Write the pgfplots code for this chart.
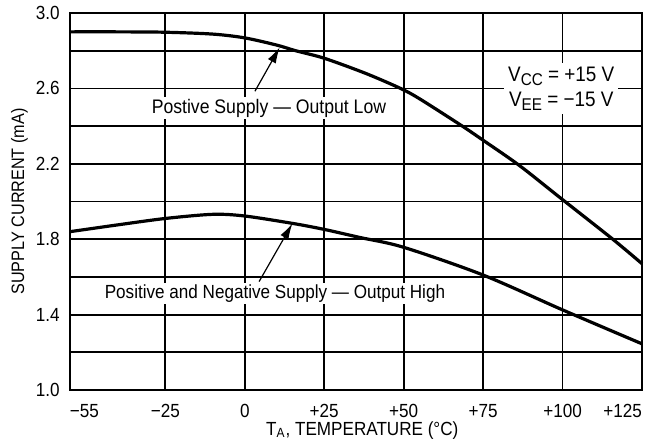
\documentclass[border=0pt]{standalone}
\usepackage{fontspec}
\setmainfont{Liberation Sans}[FakeStretch=0.9]
\usepackage{pgfplots}
\pgfplotsset{compat=1.18}
\usetikzlibrary{arrows.meta}

\pgfplotstableread{
T v
-55 2.900
-40 2.900
-25 2.898
-10 2.888
0 2.868
10 2.830
16 2.800
25 2.760
38 2.680
49 2.600
55 2.545
68 2.405
75 2.325
86.5 2.190
100 2.010
115.8 1.800
125 1.670
}\lowcurve

\pgfplotstableread{
T v
-55 1.840
-40 1.876
-25 1.910
-10 1.932
0 1.923
15 1.884
25 1.852
36 1.810
50 1.757
75 1.610
100 1.425
125 1.245
}\highcurve

\begin{document}
\begin{tikzpicture}
\begin{axis}[
  scale only axis, width=286pt, height=188.5pt,
  xmin=-55, xmax=125, ymin=1.0, ymax=3.0,
  xtick={-55,-25,0,25,50,75,100,125},
  xticklabels={\makebox[0pt][l]{−55},−25,0,+25,+50,+75,+100,\makebox[0pt][r]{+125}},
  ytick={1.0,1.4,1.8,2.2,2.6,3.0},
  yticklabels={1.0,1.4,1.8,2.2,2.6,\raisebox{-2.5pt}{3.0}},
  minor ytick={1.2,1.6,2.0,2.4,2.8},
  xmajorgrids=true, ymajorgrids=true, yminorgrids=true,
  grid style={black, line width=0.9pt},
  major grid style={black, line width=0.9pt},
  minor grid style={black, line width=0.9pt},
  major tick length=0pt, minor tick length=0pt,
  axis line style={black, line width=1.3pt},
  tick label style={font=\fontsize{9.5}{11}\selectfont},
  xticklabel style={anchor=base, yshift=-13.5pt, inner sep=0pt},
  yticklabel style={anchor=east, xshift=-5pt, inner sep=0pt},
  xlabel={T\textsubscript{A}, TEMPERATURE (°C)},
  xlabel style={at={(axis description cs:0.511,-0.1194)}, anchor=base, font=\fontsize{9.5}{11}\selectfont},
  ylabel={SUPPLY CURRENT (mA)},
  ylabel style={at={(axis description cs:-0.0883,0.5)}, anchor=center, font=\fontsize{9}{11}\selectfont},
  clip=false,
]
\addplot[black, line width=1.6pt, smooth, tension=0.5] table[x=T, y=v] {\lowcurve};
\addplot[black, line width=1.6pt, smooth, tension=0.5] table[x=T, y=v] {\highcurve};

\node[fill=white, inner sep=1pt, anchor=base, font=\fontsize{9.8}{11}\selectfont]
  at (axis cs:7.6,2.468) {Postive Supply — Output Low};
\node[fill=white, inner sep=1pt, anchor=base, font=\fontsize{9.5}{11}\selectfont]
  at (axis cs:9.5,1.4865) {Positive and Negative Supply — Output High};
\node[fill=white, inner sep=2pt, align=center, anchor=center, font=\fontsize{10.5}{12.5}\selectfont]
  at (axis cs:99.6,2.5995) {V\raisebox{-0.35ex}{\fontsize{8.5}{9}\selectfont CC} = +15 V\\V\raisebox{-0.35ex}{\fontsize{8.5}{9}\selectfont EE} = −15 V};

\draw[line width=0.6pt, -{Latex[length=8pt,width=4.5pt]}] (axis cs:3.2,2.585) -- (axis cs:11,2.818);
\draw[line width=0.6pt, -{Latex[length=8pt,width=4.5pt]}] (axis cs:4.5,1.575) -- (axis cs:15,1.884);
\end{axis}
\pgfresetboundingbox
\path (-35pt,-28pt) rectangle (289.5pt,195pt);
\end{tikzpicture}
\end{document}
